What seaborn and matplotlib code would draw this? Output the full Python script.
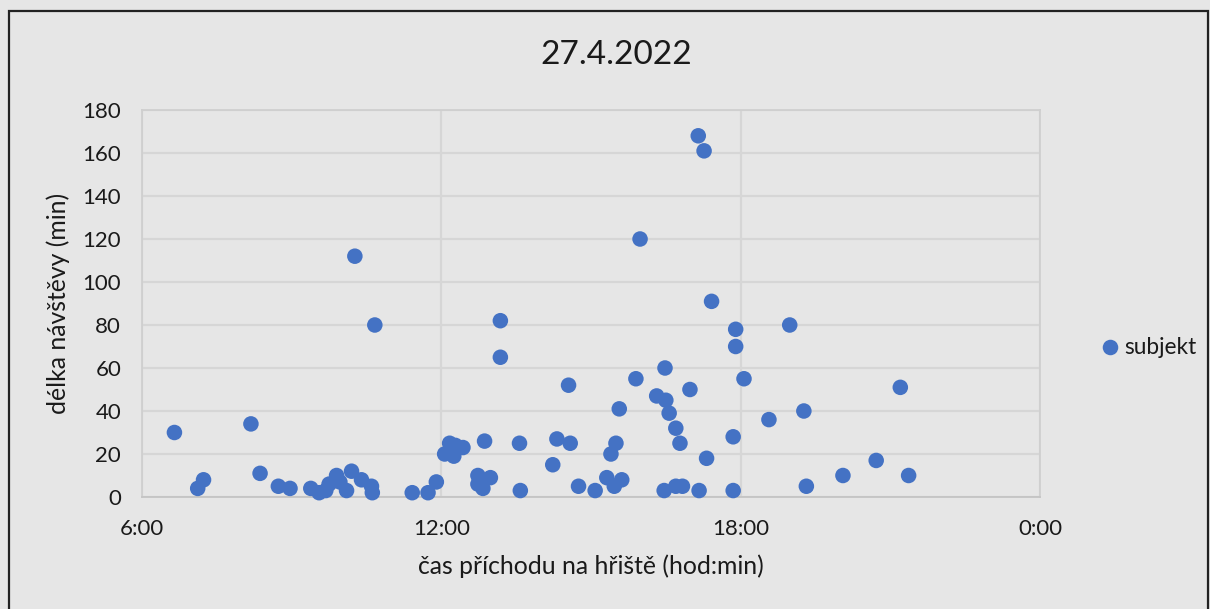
import matplotlib
matplotlib.use("Agg")
import matplotlib.pyplot as plt
import matplotlib.patches as mpatches
from matplotlib.ticker import FixedLocator, FixedFormatter
import seaborn as sns
import pandas as pd

# ---- data ----
arrival_times = [
    "6:39", "7:07", "7:14", "8:11", "8:22", "8:44", "8:58", "9:23", "9:33", "9:41",
    "9:45", "9:54", "9:58", "10:06", "10:12", "10:16", "10:24", "10:36", "10:37", "10:40",
    "11:25", "11:44", "11:54", "12:04", "12:10", "12:15", "12:17", "12:26", "12:44", "12:44",
    "12:50", "12:52", "12:59", "13:11", "13:11", "13:34", "13:35", "14:14", "14:19", "14:33",
    "14:35", "14:45", "15:05", "15:19", "15:24", "15:28", "15:30", "15:34", "15:37", "15:54",
    "15:59", "16:19", "16:28", "16:29", "16:30", "16:34", "16:42", "16:42", "16:47", "16:50",
    "16:59", "17:09", "17:10", "17:16", "17:19", "17:25", "17:51", "17:51", "17:54", "17:54",
    "18:04", "18:34", "18:59", "19:16", "19:19", "20:03", "20:43", "21:12", "21:22",
]
visit_minutes = [
    30, 4, 8, 34, 11, 5, 4, 4, 2, 3,
    6, 10, 7, 3, 12, 112, 8, 5, 2, 80,
    2, 2, 7, 20, 25, 19, 24, 23, 10, 6,
    4, 26, 9, 82, 65, 25, 3, 15, 27, 52,
    25, 5, 3, 9, 20, 5, 25, 41, 8, 55,
    120, 47, 3, 60, 45, 39, 32, 5, 25, 5,
    50, 168, 3, 161, 18, 91, 28, 3, 78, 70,
    55, 36, 80, 40, 5, 10, 17, 51, 10,
]
x_tick_hours = [6, 12, 18, 24]
x_tick_labels = ["6:00", "12:00", "18:00", "0:00"]
y_ticks = [0, 20, 40, 60, 80, 100, 120, 140, 160, 180]
title_text = "27.4.2022"
x_label = "čas příchodu na hřiště (hod:min)"
y_label = "délka návštěvy (min)"
series_name = "subjekt"

def to_hours(t):
    h, m = t.split(":")
    return int(h) + int(m) / 60.0

df = pd.DataFrame({
    "cas": [to_hours(t) for t in arrival_times],
    "delka": visit_minutes,
    "serie": series_name,
})

# ---- style ----
sns.set_theme(style="white")
plt.rcParams["font.family"] = ["Lato", "DejaVu Sans"]
bg = "#E6E6E6"
grid_c = "#D6D6D6"
text_c = "#1a1a1a"

fig = plt.figure(figsize=(12.10, 6.09), dpi=100, facecolor=bg)
ax = fig.add_axes([142 / 1210, 1 - 497 / 609, (1040 - 142) / 1210, (497 - 110) / 609])
ax.set_facecolor(bg)

sns.scatterplot(data=df, x="cas", y="delka", hue="serie", palette=["#4472C4"],
                s=125, edgecolor="none", linewidth=0, ax=ax, zorder=3, clip_on=False)

ax.set_xlim(6, 24)
ax.set_ylim(0, 180)
ax.xaxis.set_major_locator(FixedLocator(x_tick_hours))
ax.xaxis.set_major_formatter(FixedFormatter(x_tick_labels))
ax.set_yticks(y_ticks)
ax.grid(True, color=grid_c, linewidth=1.6, zorder=0)
ax.set_axisbelow(True)
for s in ax.spines.values():
    s.set_color("#CFCFCF")
    s.set_linewidth(1.3)
ax.spines["bottom"].set_color("#C4C4C4")
ax.tick_params(axis="both", length=0, labelsize=16, colors=text_c)
ax.tick_params(axis="y", pad=15)
ax.tick_params(axis="x", pad=16)

ax.set_xlabel(x_label, fontsize=17.8, color=text_c, labelpad=11)
ax.set_ylabel(y_label, fontsize=17.8, color=text_c, labelpad=9)

fig.text(616 / 1210, 1 - 55 / 609, title_text, ha="center", va="center",
         fontsize=24, color=text_c)

leg = ax.legend(loc="center left", bbox_to_anchor=(1096 / 1210, 1 - 348 / 609),
                bbox_transform=fig.transFigure, frameon=False, fontsize=16.3,
                handletextpad=0.05, handlelength=1.2, borderpad=0, borderaxespad=0,
                markerscale=1.0)
for t in leg.get_texts():
    t.set_color(text_c)

fig.patches.append(mpatches.Rectangle((9 / 1210, -0.02), (1208 - 9) / 1210, (609 - 11) / 609 + 0.02,
                                      transform=fig.transFigure, fill=False,
                                      edgecolor="#222222", linewidth=1.6, zorder=10))

fig.savefig("out.png", dpi=100, facecolor=bg)
